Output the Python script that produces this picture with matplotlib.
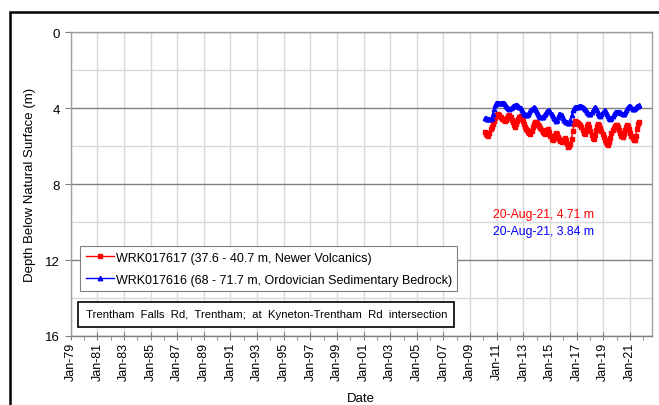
import matplotlib
matplotlib.use('Agg')
import matplotlib.pyplot as plt
import matplotlib.dates as mdates
from matplotlib.patches import Rectangle
import pandas as pd
from datetime import datetime

plt.rcParams['font.family'] = ['Liberation Sans', 'DejaVu Sans']

# monthly readings, Jan-2010 .. Aug-2021 (depth below natural surface, m)
start_month = "2010-01-15"

red_depth = [
    5.26, 5.35, 5.42, 5.44, 5.30, 5.10, 5.00, 4.85, 4.65, 4.50, 4.40, 4.35,  # 2010
    4.30, 4.35, 4.45, 4.55, 4.58, 4.62, 4.65, 4.60, 4.50, 4.42, 4.38, 4.45,  # 2011
    4.60, 4.75, 4.90, 5.00, 4.85, 4.65, 4.55, 4.45, 4.40, 4.45, 4.65, 4.85,  # 2012
    5.00, 5.08, 5.15, 5.25, 5.30, 5.35, 5.20, 5.00, 4.85, 4.75, 4.70, 4.80,  # 2013
    4.88, 4.95, 5.05, 5.15, 5.25, 5.32, 5.35, 5.25, 5.15, 5.10, 5.25, 5.45,  # 2014
    5.60, 5.68, 5.55, 5.40, 5.30, 5.35, 5.50, 5.62, 5.72, 5.78, 5.75, 5.65,  # 2015
    5.55, 5.70, 5.90, 6.05, 5.98, 5.88, 5.60, 5.20, 4.85, 4.65, 4.70, 4.75,  # 2016
    4.80, 4.85, 4.90, 5.00, 5.15, 5.30, 5.35, 5.15, 4.95, 4.85, 5.00, 5.20,  # 2017
    5.40, 5.55, 5.60, 5.40, 5.15, 4.95, 4.83, 4.90, 5.05, 5.20, 5.35, 5.50,  # 2018
    5.65, 5.80, 5.90, 5.96, 5.80, 5.55, 5.30, 5.15, 5.05, 4.95, 4.90, 4.90,  # 2019
    5.00, 5.15, 5.30, 5.45, 5.50, 5.35, 5.15, 5.00, 4.90, 4.95, 5.10, 5.30,  # 2020
    5.44, 5.55, 5.65, 5.70, 5.45, 5.10, 4.85, 4.71,                          # 2021
]

blue_depth = [
    4.53, 4.52, 4.55, 4.56, 4.55, 4.56, 4.50, 4.30, 4.05, 3.85, 3.75, 3.72,  # 2010
    3.72, 3.70, 3.72, 3.74, 3.72, 3.75, 3.80, 3.88, 3.95, 4.00, 4.04, 4.00,  # 2011
    3.95, 3.90, 3.86, 3.84, 3.83, 3.83, 3.86, 3.92, 4.00, 4.10, 4.20, 4.28,  # 2012
    4.32, 4.35, 4.35, 4.30, 4.20, 4.10, 4.02, 3.97, 3.95, 3.98, 4.10, 4.22,  # 2013
    4.32, 4.40, 4.45, 4.47, 4.45, 4.38, 4.28, 4.20, 4.15, 4.13, 4.12, 4.20,  # 2014
    4.30, 4.40, 4.50, 4.58, 4.65, 4.60, 4.45, 4.32, 4.30, 4.38, 4.50, 4.60,  # 2015
    4.65, 4.70, 4.75, 4.80, 4.78, 4.60, 4.35, 4.10, 3.98, 3.95, 3.95, 3.93,  # 2016
    3.92, 3.90, 3.90, 3.90, 3.92, 3.98, 4.05, 4.12, 4.18, 4.24, 4.28, 4.30,  # 2017
    4.22, 4.10, 4.00, 3.95, 4.00, 4.10, 4.25, 4.35, 4.39, 4.30, 4.20, 4.15,  # 2018
    4.12, 4.18, 4.28, 4.40, 4.50, 4.56, 4.50, 4.40, 4.30, 4.22, 4.18, 4.20,  # 2019
    4.21, 4.20, 4.22, 4.26, 4.30, 4.28, 4.20, 4.10, 4.00, 3.92, 3.86, 3.88,  # 2020
    3.95, 4.02, 4.05, 4.00, 3.95, 3.90, 3.86, 3.84,                          # 2021
]

red_label = "WRK017617 (37.6 - 40.7 m, Newer Volcanics)"
blue_label = "WRK017616 (68 - 71.7 m, Ordovician Sedimentary Bedrock)"
site_text = "Trentham  Falls  Rd,  Trentham;  at  Kyneton-Trentham  Rd  intersection"
red_note = "20-Aug-21, 4.71 m"
blue_note = "20-Aug-21, 3.84 m"
tick_years = list(range(1979, 2022, 2))
y_ticks = [0, 4, 8, 12, 16]

dates = pd.date_range(start_month, periods=len(red_depth), freq="MS") + pd.Timedelta(days=14)

fig = plt.figure(figsize=(6.59, 4.06), dpi=100)
ax = fig.add_axes([0.1073, 0.170, 0.8821, 0.748])

# outer frame of the figure (cropped on right/bottom in the original)
fig.patches.append(Rectangle((10 / 659, -0.2), 1.2, 1.2 - 13 / 406,
                             transform=fig.transFigure, fill=False,
                             edgecolor="black", linewidth=1.8))

ax.plot(dates, red_depth, color="red", marker="s", markersize=2.8,
        linewidth=1.0, label=red_label)
ax.plot(dates, blue_depth, color="blue", marker="^", markersize=3.2,
        linewidth=1.0, label=blue_label)

ax.set_xlim(datetime(1979, 1, 1), datetime(2022, 9, 1))
ax.set_ylim(16, 0)

ax.xaxis.set_major_locator(matplotlib.ticker.FixedLocator(
    [mdates.date2num(datetime(y, 1, 1)) for y in tick_years]))
ax.xaxis.set_minor_locator(mdates.YearLocator(1))
ax.xaxis.set_major_formatter(mdates.DateFormatter("%b-%y"))
ax.set_yticks(y_ticks)
ax.set_yticks([2, 6, 10, 14], minor=True)

ax.grid(axis="x", which="major", color="#d9d9d9", linewidth=1.0)
ax.grid(axis="y", which="minor", color="#d9d9d9", linewidth=1.0)
ax.grid(axis="y", which="major", color="#808080", linewidth=1.0)
ax.set_axisbelow(True)

for s in ax.spines.values():
    s.set_color("#a0a0a0")
    s.set_linewidth(1.0)
ax.spines["bottom"].set_color("#808080")

ax.tick_params(axis="x", which="major", direction="inout", length=6,
               color="#808080", labelsize=9, labelrotation=90, pad=1)
ax.tick_params(axis="x", which="minor", direction="out", length=3, color="#808080")
ax.tick_params(axis="y", which="major", direction="out", length=4,
               color="#808080", labelsize=9.5, pad=4)
ax.tick_params(axis="y", which="minor", length=0)

ax.set_xlabel("Date", fontsize=9.5, labelpad=9)
ax.set_ylabel("Depth Below Natural Surface (m)", fontsize=9.5, labelpad=6)

leg = ax.legend(loc="upper left", bbox_to_anchor=(0.016, 0.296), fontsize=9.0,
                fancybox=False, edgecolor="#808080", framealpha=1,
                handlelength=2.3, handletextpad=0.1, borderpad=0.45,
                labelspacing=0.8, borderaxespad=0)
leg.get_frame().set_linewidth(0.8)

ax.text(0.0255, 0.072, site_text, transform=ax.transAxes, fontsize=8.2,
        va="center", ha="left",
        bbox=dict(boxstyle="square,pad=0.65", facecolor="white",
                  edgecolor="black", linewidth=1.2))

ax.text(0.727, 0.402, red_note, transform=ax.transAxes, color="red",
        fontsize=8.8, ha="left", va="center")
ax.text(0.727, 0.346, blue_note, transform=ax.transAxes, color="blue",
        fontsize=8.8, ha="left", va="center")

plt.savefig("out.png", dpi=100)
plt.close(fig)
